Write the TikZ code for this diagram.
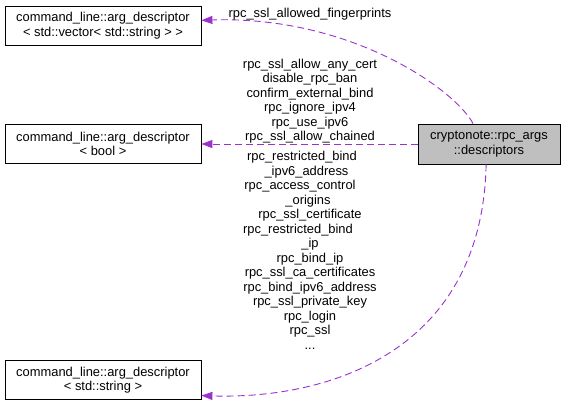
\documentclass[tikz,border=0pt]{standalone}
\usepackage{fontspec}
\setmainfont{Liberation Sans}
\usepackage{tikz}
\usetikzlibrary{arrows.meta}
\definecolor{edgec}{HTML}{9A32CD}
\definecolor{fillg}{HTML}{BFBFBF}
\newcommand{\padr}[1]{\hspace*{#1}\mbox{}}

\begin{document}
\begin{tikzpicture}[
  x=1pt, y=-1pt,
  font=\fontsize{12.9}{14.5}\selectfont,
  box/.style={draw=black, fill=white, minimum width=196pt, minimum height=39pt,
              align=center, inner sep=0pt, line width=0.8pt},
  cls/.style={box, minimum width=142pt, minimum height=40pt, fill=fillg},
  lbl/.style={align=center, inner sep=0pt},
  dep/.style={draw=edgec, line width=0.9pt, dash pattern=on 7pt off 4pt,
              -{Triangle[length=11pt,width=8pt]}}
]
\useasboundingbox (0,0) rectangle (565,407);

\node[box] (vec)  at (103,25.5) {command\_line::arg\_descriptor\\< std::vector< std::string > >};
\node[box] (bool) at (103,144)  {command\_line::arg\_descriptor\\< bool >};
\node[box] (str)  at (103,380)  {command\_line::arg\_descriptor\\< std::string >};
\node[cls] (desc) at (489,144)  {cryptonote::rpc\_args\\::descriptors};

\draw[dep] (desc.128) .. controls +(-18,-34) and +(149,-5) .. (vec.3);
\draw[dep] (desc.west) -- (bool.east);
\draw[dep] (desc.262) .. controls +(-4,186) and +(129,4) .. (str.351);

\node[lbl] (fpr)  at (310,14) {rpc\_ssl\_allowed\_fingerprints};
\node[lbl] (flag) at (310,101)   {rpc\_ssl\_allow\_any\_cert\\disable\_rpc\_ban\\confirm\_external\_bind\\rpc\_ignore\_ipv4\\rpc\_use\_ipv6\\rpc\_ssl\_allow\_chained};
\node[lbl] (opts) at (310,250.5) {rpc\_restricted\_bind\padr{16pt}\\\_ipv6\_address\padr{7pt}\\rpc\_access\_control\padr{20pt}\\\_origins\padr{4pt}\\rpc\_ssl\_certificate\\rpc\_restricted\_bind\padr{24pt}\\\_ip\\rpc\_bind\_ip\\rpc\_ssl\_ca\_certificates\\rpc\_bind\_ipv6\_address\\rpc\_ssl\_private\_key\\rpc\_login\\rpc\_ssl\\...};
\end{tikzpicture}
\end{document}
